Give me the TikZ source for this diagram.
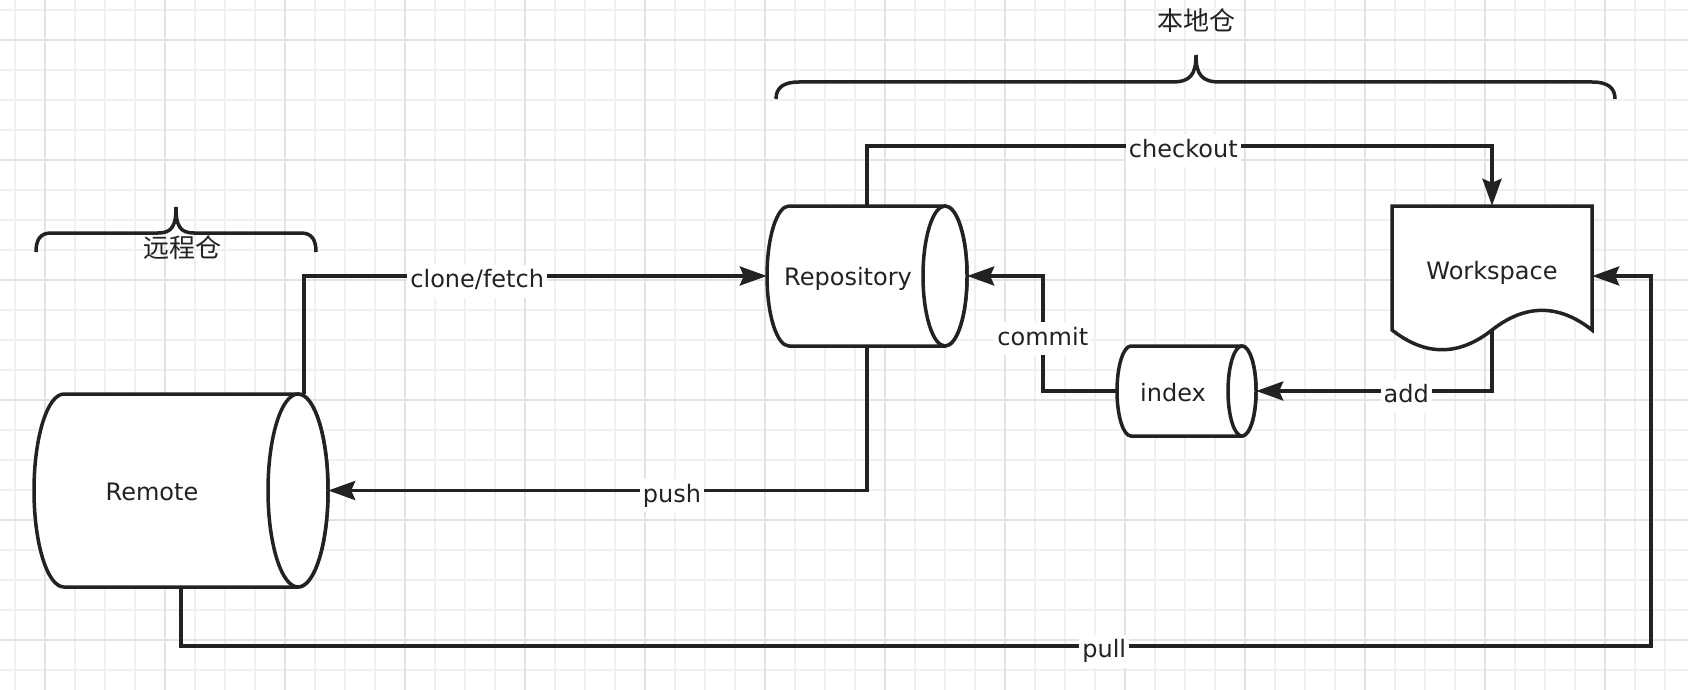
\documentclass[tikz,border=0pt]{standalone}
\usepackage{fontspec}
\setmainfont{DejaVu Sans}
\newfontfamily\cjk{Noto Sans CJK SC}
\usetikzlibrary{arrows.meta}
\definecolor{ink}{HTML}{222222}
\definecolor{gridminor}{HTML}{F0F0F0}
\definecolor{gridmajor}{HTML}{E3E3E3}

\tikzset{
  wire/.style={draw=ink, line width=3.5pt},
  flow/.style={wire, -{Stealth[length=27pt, width=19pt, inset=4pt]}},
  shp/.style={wire, fill=white},
  box/.style={draw=none, inner sep=0pt},
  txt/.style={text=ink, font=\fontsize{24}{28}\selectfont, text height=18pt, text depth=5pt, inner sep=0pt},
  lbl/.style={txt, fill=white, inner xsep=3pt, inner ysep=5pt, yshift=-5pt},
  cn/.style={text=ink, font=\cjk\fontsize{26}{30}\selectfont},
}

\begin{document}
\begin{tikzpicture}[x=1pt, y=-1pt]
% Canvas
\useasboundingbox (0,0) rectangle (1688,690);
\fill[white] (0,0) rectangle (1688,690);
\foreach \gx in {15,45,...,1665} \draw[gridminor, line width=1.5pt] (\gx,0) -- (\gx,690);
\foreach \gy in {10,40,...,670} \draw[gridminor, line width=1.5pt] (0,\gy) -- (1688,\gy);
\foreach \gx in {45,165,...,1605} \draw[gridmajor, line width=1.5pt] (\gx,0) -- (\gx,690);
\foreach \gy in {40,160,...,640} \draw[gridmajor, line width=1.5pt] (0,\gy) -- (1688,\gy);

% Braces
\draw[wire] (36,252) .. controls (36,240) and (40,233) .. (51,233) -- (158,233)
  .. controls (172,233) and (176,226) .. (176,207)
  .. controls (176,226) and (180,233) .. (194,233) -- (301,233)
  .. controls (312,233) and (316,240) .. (316,252);
\node[cn] (remote-title) at (182,248) {远程仓};

\draw[wire] (776,99) .. controls (776,88) and (783,82) .. (799,82) -- (1172,82)
  .. controls (1190,82) and (1196,75) .. (1196,55)
  .. controls (1196,75) and (1202,82) .. (1220,82) -- (1592,82)
  .. controls (1608,82) and (1615,88) .. (1615,99);
\node[cn] (local-title) at (1196,21) {本地仓};

% Remote
\filldraw[shp] (298,394) -- (64,394) arc[start angle=90, end angle=270, x radius=30pt, y radius=96.5pt]
  -- (298,587) arc[start angle=-90, end angle=90, x radius=30pt, y radius=96.5pt] -- cycle;
\draw[shp] (298,490.5) ellipse[x radius=30pt, y radius=96.5pt];
% Repository
\filldraw[shp] (945,206) -- (789,206) arc[start angle=90, end angle=270, x radius=22pt, y radius=70pt]
  -- (945,346) arc[start angle=-90, end angle=90, x radius=22pt, y radius=70pt] -- cycle;
\draw[shp] (945,276) ellipse[x radius=22pt, y radius=70pt];
% index
\filldraw[shp] (1242,346) -- (1131,346) arc[start angle=90, end angle=270, x radius=14pt, y radius=45pt]
  -- (1242,436) arc[start angle=-90, end angle=90, x radius=14pt, y radius=45pt] -- cycle;
\draw[shp] (1242,391) ellipse[x radius=14pt, y radius=45pt];
% Workspace
\filldraw[shp] (1392,206) -- (1592,206) -- (1592,330)
  .. controls (1558.7,303.8) and (1525.3,303.8) .. (1492,330)
  .. controls (1458.7,356.3) and (1425.3,356.3) .. (1392,330) -- cycle;

\node[box, minimum width=294pt, minimum height=193pt, label={[txt, xshift=-29pt, yshift=-3pt]center:Remote}] (remote) at (181,490.5) {};
\node[box, minimum width=200pt, minimum height=140pt, label={[txt, xshift=-19pt, yshift=-3pt]center:Repository}] (repo) at (867,276) {};
\node[box, minimum width=139pt, minimum height=90pt, label={[txt, xshift=-13.5pt, yshift=-4pt]center:index}] (index) at (1186.5,391) {};
\node[box, minimum width=200pt, minimum height=146pt, label={[txt, yshift=6pt]center:Workspace}] (ws) at (1492,279) {};

% Flows
\draw[flow] ([xshift=-24pt]remote.north east) |- node[lbl, pos=0.687] (clone-l) {clone/fetch} (repo.west);
\draw[flow] (repo.north) -- ++(0,-60) -| node[lbl, pos=0.253] (checkout-l) {checkout} (ws.north);
\draw[flow] (repo.south) |- node[lbl, pos=0.681] (push-l) {push} (remote.east);
\draw[flow] (index.west) -- ++(-74,0) |- node[lbl, pos=0.228, yshift=5pt] (commit-l) {commit} (repo.east);
\draw[flow] ([yshift=22pt]ws.south) |- node[lbl, pos=0.682] (add-l) {add} (index.east);
\draw[flow] (remote.south) -- ++(0,59) -- node[lbl, pos=0.628] (pull-l) {pull} ++(1470,0) |- ([yshift=3pt]ws.east);

\end{tikzpicture}
\end{document}
